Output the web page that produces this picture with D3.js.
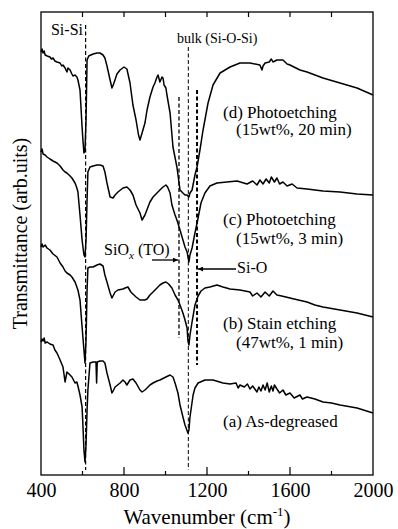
<!DOCTYPE html>
<html>
<head>
<meta charset="utf-8">
<script src="https://cdn.jsdelivr.net/npm/d3@7"></script>
<style>
  body { margin: 0; background: #fff; }
</style>
</head>
<body>
<svg id="chart" width="398" height="529" style="font-family: 'Liberation Serif', serif"></svg>
<script>
// spectra: [wavenumber (cm-1), transmittance (arb. units, offset)]
const spectrumA = [
  [400,1.33],[405,1.36],[410,1.34],[415,1.37],[420,1.32],[430,1.33],[443,1.31],[458,1.30],[467,1.25],[477,1.22],
  [492,1.15],[506,1.08],[516,0.93],[525,1.03],[540,1.00],[549,0.98],[564,0.92],[573,0.93],[578,0.89],
  [588,0.80],[598,0.68],[602,0.50],[607,0.25],[612,0.13],[617,0.30],[622,0.65],[626,0.85],[636,1.12],
  [651,1.13],[665,1.13],[668,0.92],[671,1.13],[684,1.14],[699,1.14],[708,1.12],[718,1.02],[733,0.90],
  [742,0.82],[750,0.85],[757,0.88],[781,0.92],[795,0.95],[805,0.93],[814,0.90],[829,0.95],[843,0.96],
  [858,0.92],[877,0.85],[887,0.83],[901,0.85],[911,0.87],[925,0.90],[940,0.92],[959,0.94],[973,0.95],
  [1002,0.98],[1022,1.00],[1036,0.98],[1046,0.92],[1060,0.82],[1070,0.70],[1084,0.58],[1094,0.50],
  [1108,0.42],[1113,0.45],[1118,0.58],[1133,0.80],[1142,0.87],[1157,0.92],[1190,0.95],[1229,0.95],
  [1277,0.92],[1311,0.91],[1340,0.92],[1350,0.87],[1359,0.90],[1380,0.88],[1395,0.91],[1407,0.86],
  [1420,0.89],[1441,0.83],[1450,0.88],[1460,0.84],[1470,0.90],[1480,0.85],[1490,0.92],[1500,0.83],
  [1510,0.89],[1518,0.84],[1525,0.90],[1537,0.86],[1550,0.82],[1566,0.85],[1580,0.80],[1600,0.82],
  [1620,0.77],[1648,0.80],[1660,0.76],[1682,0.78],[1720,0.76],[1759,0.73],[1800,0.72],[1841,0.70],
  [1923,0.67],[2000,0.62]
];
const spectrumB = [
  [400,2.28],[405,2.31],[410,2.28],[420,2.30],[429,2.27],[443,2.25],[458,2.21],[477,2.18],[492,2.12],
  [506,2.08],[516,2.04],[525,2.02],[540,2.00],[549,1.98],[564,1.93],[578,1.85],[588,1.75],[598,1.48],
  [607,1.25],[612,1.12],[617,1.35],[622,1.85],[626,2.07],[636,2.08],[651,2.08],[670,2.10],[684,2.11],
  [699,2.09],[708,2.00],[718,1.93],[733,1.82],[742,1.77],[757,1.83],[771,1.85],[795,1.86],[805,1.87],
  [819,1.88],[833,1.83],[843,1.81],[858,1.78],[877,1.75],[901,1.75],[911,1.76],[925,1.80],[940,1.83],
  [959,1.87],[973,1.90],[988,1.92],[1002,1.93],[1015,1.91],[1031,1.87],[1046,1.80],[1060,1.75],
  [1070,1.70],[1084,1.62],[1094,1.55],[1104,1.47],[1108,1.35],[1113,1.30],[1118,1.40],[1128,1.53],
  [1142,1.70],[1157,1.79],[1171,1.84],[1190,1.87],[1214,1.88],[1248,1.90],[1277,1.88],[1311,1.86],
  [1359,1.85],[1407,1.83],[1420,1.79],[1441,1.82],[1460,1.78],[1480,1.83],[1500,1.79],[1518,1.84],
  [1537,1.80],[1560,1.79],[1600,1.77],[1640,1.75],[1682,1.73],[1720,1.70],[1759,1.68],[1841,1.65],
  [1923,1.62],[2000,1.58]
];
const spectrumC = [
  [400,3.23],[405,3.26],[410,3.21],[420,3.20],[429,3.18],[443,3.16],[458,3.14],[477,3.12],[492,3.09],
  [506,3.05],[516,3.03],[525,3.02],[540,2.99],[549,2.97],[564,2.92],[573,2.87],[578,2.83],[588,2.60],
  [598,2.35],[607,2.20],[612,2.18],[617,2.35],[622,2.75],[626,3.03],[636,3.08],[651,3.09],[670,3.10],
  [684,3.10],[699,3.09],[708,3.03],[718,2.92],[733,2.78],[747,2.77],[757,2.80],[771,2.83],[795,2.87],
  [814,2.88],[829,2.85],[843,2.80],[858,2.70],[877,2.62],[887,2.55],[901,2.60],[925,2.73],[940,2.78],
  [959,2.82],[973,2.85],[988,2.88],[1002,2.90],[1010,2.88],[1022,2.82],[1031,2.70],[1046,2.60],
  [1055,2.55],[1070,2.45],[1084,2.35],[1094,2.28],[1104,2.23],[1113,2.13],[1118,2.20],[1128,2.27],
  [1142,2.42],[1157,2.57],[1171,2.72],[1190,2.82],[1214,2.89],[1248,2.92],[1296,2.93],[1345,2.94],
  [1393,2.91],[1420,2.94],[1441,2.90],[1455,2.95],[1470,2.91],[1485,2.96],[1500,2.92],[1510,2.98],
  [1525,2.93],[1537,2.97],[1550,2.91],[1566,2.93],[1586,2.89],[1610,2.91],[1634,2.87],[1682,2.86],
  [1759,2.84],[1841,2.83],[1923,2.81],[2000,2.80]
];
const spectrumD = [
  [400,4.23],[405,4.26],[410,4.22],[415,4.24],[420,4.20],[430,4.19],[443,4.18],[450,4.16],[458,4.17],
  [467,4.14],[477,4.13],[492,4.12],[500,4.09],[506,4.10],[516,4.07],[525,4.03],[530,4.07],[540,4.05],
  [549,4.01],[554,3.99],[564,4.00],[573,3.98],[578,3.95],[588,3.85],[598,3.48],[602,3.35],[607,3.22],
  [612,3.25],[617,3.55],[622,4.15],[630,4.19],[651,4.21],[670,4.22],[684,4.22],[699,4.20],[708,4.17],
  [718,4.09],[733,3.95],[742,3.87],[750,3.91],[766,4.01],[781,4.05],[800,4.08],[814,4.06],[829,3.92],
  [843,3.70],[858,3.55],[870,3.40],[877,3.35],[887,3.42],[901,3.52],[911,3.65],[925,3.78],[940,3.88],
  [949,3.92],[959,3.98],[964,4.00],[973,3.93],[983,3.98],[988,3.97],[993,3.90],[1002,3.87],[1007,3.80],
  [1022,3.62],[1036,3.28],[1055,3.08],[1070,2.85],[1084,2.82],[1094,2.80],[1104,2.80],[1113,2.78],
  [1118,2.82],[1128,2.85],[1142,3.00],[1152,3.08],[1166,3.25],[1181,3.45],[1205,3.72],[1229,3.90],
  [1263,4.02],[1311,4.08],[1359,4.12],[1407,4.12],[1455,4.10],[1465,4.05],[1470,4.09],[1480,4.12],
  [1500,4.13],[1510,4.16],[1518,4.13],[1537,4.15],[1566,4.15],[1586,4.11],[1600,4.10],[1648,4.05],
  [1682,4.03],[1759,3.97],[1841,3.92],[1923,3.87],[2000,3.80]
];
const spectra = [spectrumA, spectrumB, spectrumC, spectrumD];

// band markers: wavenumber, top/bottom in transmittance units
const bandNames = ["Si-Si", "bulk", "SiOx", "Si-O"];
const bandPositions = [615, 1110, 1065, 1152];
const bandTop = [4.50, 4.28, 3.78, 3.85];
const bandBottom = [0.05, 0.05, 1.37, 1.10];
const bandWidths = [1.2, 1, 1.3, 2];

const xTicks = [400, 600, 800, 1000, 1200, 1400, 1600, 1800, 2000];
const xTickLabels = [400, 800, 1200, 1600, 2000];

const labelText = ["(d) Photoetching", "(15wt%, 20 min)", "(c) Photoetching", "(15wt%, 3 min)",
  "(b) Stain etching", "(47wt%, 1 min)", "(a) As-degreased"];
const labelW = [1277, 1340, 1277, 1340, 1277, 1340, 1277];
const labelT = [3.57, 3.40, 2.50, 2.31, 1.46, 1.27, 0.48];

const svg = d3.select("#chart");
const margin = { left: 41, right: 25, top: 12, bottom: 54 };
const width = 398, height = 529;
const serif = "'Liberation Serif', serif";

const x = d3.scaleLinear().domain([400, 2000]).range([margin.left, width - margin.right]);
const y = d3.scaleLinear().domain([0, 4.63]).range([height - margin.bottom, margin.top]);

const line = d3.line().x(d => x(d[0])).y(d => y(d[1]));

// dashed band lines
svg.append("g")
  .selectAll("line")
  .data(bandPositions)
  .join("line")
  .attr("x1", d => x(d)).attr("x2", d => x(d))
  .attr("y1", (d, i) => y(bandTop[i]))
  .attr("y2", (d, i) => y(bandBottom[i]))
  .attr("stroke", "#000")
  .attr("stroke-width", (d, i) => bandWidths[i])
  .attr("stroke-dasharray", "4,2.5");

// spectra
svg.append("g")
  .selectAll("path")
  .data(spectra)
  .join("path")
  .attr("d", line)
  .attr("fill", "none")
  .attr("stroke", "#000")
  .attr("stroke-width", 1.5)
  .attr("stroke-linejoin", "round");

// frame
svg.append("rect")
  .attr("x", x(400)).attr("y", y(4.63))
  .attr("width", x(2000) - x(400)).attr("height", y(0) - y(4.63))
  .attr("fill", "none").attr("stroke", "#000").attr("stroke-width", 1.3);

// tick labels
const bottomAxis = d3.axisBottom(x).tickValues(xTicks)
  .tickSize(0).tickFormat(d => xTickLabels.includes(d) ? d : "").tickPadding(8);
const gx = svg.append("g").attr("transform", `translate(0,${y(0)})`).call(bottomAxis);
gx.attr("font-family", null).attr("font-size", null);
gx.select(".domain").remove();
gx.selectAll("text").attr("fill", "#000").style("font-family", serif).style("font-size", "20px");

// inside ticks, bottom and top
svg.append("g").selectAll("line")
  .data(xTicks.slice(1, -1))
  .join("line")
  .attr("x1", d => x(d)).attr("x2", d => x(d))
  .attr("y1", y(0)).attr("y2", d => y(0) - (xTickLabels.includes(d) ? 8 : 4))
  .attr("stroke", "#000").attr("stroke-width", 1.2);

svg.append("g").selectAll("line")
  .data(xTicks.slice(1, -1))
  .join("line")
  .attr("x1", d => x(d)).attr("x2", d => x(d))
  .attr("y1", y(4.63)).attr("y2", y(4.63) + 5)
  .attr("stroke", "#000").attr("stroke-width", 1.2);

// axis titles
const xTitle = svg.append("text")
  .attr("x", (x(400) + x(2000)) / 2).attr("y", 524)
  .attr("text-anchor", "middle").style("font-family", serif).style("font-size", "21px");
xTitle.append("tspan").text("Wavenumber (cm");
xTitle.append("tspan").style("font-size", "13px").attr("dy", -8).text("-1");
xTitle.append("tspan").attr("dy", 8).text(")");

svg.append("text")
  .attr("transform", `translate(27,${(y(0) + y(4.63)) / 2 - 10}) rotate(-90)`)
  .attr("text-anchor", "middle").style("font-family", serif).style("font-size", "20px")
  .text("Transmittance (arb.uits)");

// sample labels
svg.append("g").selectAll("text")
  .data(labelText)
  .join("text")
  .attr("x", (d, i) => x(labelW[i]))
  .attr("y", (d, i) => y(labelT[i]))
  .style("font-family", serif).style("font-size", "17px")
  .text(d => d);

svg.append("text").attr("x", x(448)).attr("y", y(4.40))
  .style("font-family", serif).style("font-size", "16px").text("Si-Si");
svg.append("text").attr("x", x(1055)).attr("y", y(4.32))
  .style("font-family", serif).style("font-size", "14px").text("bulk (Si-O-Si)");

const siox = svg.append("text").attr("x", x(704)).attr("y", y(2.20))
  .style("font-family", serif).style("font-size", "16px");
siox.append("tspan").text("SiO");
siox.append("tspan").style("font-size", "11px").style("font-style", "italic").attr("dy", 4).text("x");
siox.append("tspan").attr("dy", -4).text(" (TO)");

svg.append("text").attr("x", x(1345)).attr("y", y(2.02))
  .style("font-family", serif).style("font-size", "16px").text("Si-O");

// arrows
const defs = svg.append("defs");
defs.append("marker").attr("id", "arrow")
  .attr("viewBox", "0 0 10 10").attr("refX", 10).attr("refY", 5)
  .attr("markerWidth", 7).attr("markerHeight", 5).attr("orient", "auto")
  .attr("markerUnits", "userSpaceOnUse")
  .append("path").attr("d", "M0,0L10,5L0,10z").attr("fill", "#000");

svg.append("line")
  .attr("x1", x(935)).attr("x2", x(1060))
  .attr("y1", y(2.15)).attr("y2", y(2.15))
  .attr("stroke", "#000").attr("stroke-width", 1.3).attr("marker-end", "url(#arrow)");

svg.append("line")
  .attr("x1", x(1340)).attr("x2", x(1157))
  .attr("y1", y(2.06)).attr("y2", y(2.06))
  .attr("stroke", "#000").attr("stroke-width", 1.3).attr("marker-end", "url(#arrow)");
</script>
</body>
</html>
